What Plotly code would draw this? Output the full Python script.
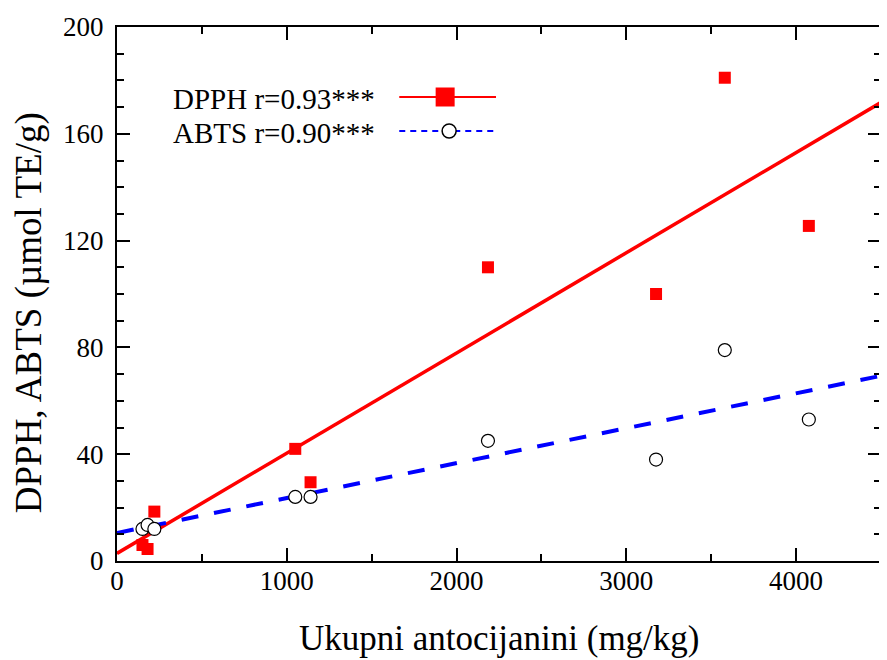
import numpy as np
import plotly.graph_objects as go

# Data
anthocyanins = [150, 180, 220, 1050, 1140, 2185, 3175, 3580, 4075]   # mg/kg
dpph = [6, 4.5, 18.5, 42, 29.5, 110, 100, 181, 125.5]                # umol TE/g
abts = [12, 13.5, 12, 24, 24, 45, 38, 79, 53]                          # umol TE/g
legend_dpph = "DPPH r=0.93***"
legend_abts = "ABTS r=0.90***"
x_title = "Ukupni antocijanini (mg/kg)"
y_title = "DPPH, ABTS (µmol TE/g)"
x_range = [0, 4500]
y_range = [0, 200]

FONT = "Liberation Serif, Times New Roman, serif"

x = np.array(anthocyanins, dtype=float)
fit_x = np.array(x_range, dtype=float)
k1, b1 = np.polyfit(x, np.array(dpph), 1)
k2, b2 = np.polyfit(x, np.array(abts), 1)

fig = go.Figure()
fig.add_trace(go.Scatter(x=fit_x, y=k1 * fit_x + b1, mode="lines",
                         line=dict(color="#ff0000", width=3.5), showlegend=False))
fig.add_trace(go.Scatter(x=fit_x, y=k2 * fit_x + b2, mode="lines",
                         line=dict(color="#0000ff", width=4, dash="17px,16px"), showlegend=False))
fig.add_trace(go.Scatter(x=anthocyanins, y=dpph, mode="markers",
                         marker=dict(symbol="square", size=12, color="#ff0000", line=dict(width=0)),
                         showlegend=False))
fig.add_trace(go.Scatter(x=anthocyanins, y=abts, mode="markers",
                         marker=dict(symbol="circle", size=13, color="white",
                                     line=dict(color="black", width=1.2)),
                         showlegend=False))

# page body adds an 8px offset; work in window pixels
OFF = 8
WIN_W, WIN_H = 887, 660
PL, PR, PT, PB = 117, 883, 27, 561       # plot area in window pixels
W, H = WIN_W - OFF, WIN_H - OFF
L, R, T, B = PL - OFF, WIN_W - PR, PT - OFF, WIN_H - PB
pw, ph = PR - PL, PB - PT


def px(xp):
    return (xp - PL) / pw


def py(yp):
    return (PB - yp) / ph


axis_common = dict(showline=True, linewidth=2, linecolor="black", mirror="allticks",
                   ticks="inside", ticklen=13, tickwidth=1.5, tickcolor="black",
                   showgrid=False, zeroline=False,
                   tickfont=dict(family=FONT, size=27, color="black"))
fig.update_xaxes(range=x_range, dtick=1000, tick0=0, ticklabelstandoff=-5,
                 minor=dict(dtick=500, ticks="inside", ticklen=7, tickwidth=1.5, tickcolor="black"),
                 **axis_common)
fig.update_yaxes(range=y_range, dtick=40, tick0=0, ticklabelstandoff=6,
                 minor=dict(dtick=10, ticks="inside", ticklen=7, tickwidth=1.5, tickcolor="black"),
                 **axis_common)

annotations = [
    dict(text=x_title, xref="paper", yref="paper", x=px(500), y=py(638),
         xanchor="center", yanchor="middle", showarrow=False,
         font=dict(family=FONT, size=35, color="black")),
    dict(text=y_title, xref="paper", yref="paper", x=px(29), y=py(313),
         xanchor="center", yanchor="middle", textangle=-90, showarrow=False,
         font=dict(family=FONT, size=37, color="black")),
    dict(text=legend_dpph, xref="paper", yref="paper", x=px(171), y=py(99),
         xanchor="left", yanchor="middle", showarrow=False,
         font=dict(family=FONT, size=29, color="black")),
    dict(text=legend_abts, xref="paper", yref="paper", x=px(171), y=py(133),
         xanchor="left", yanchor="middle", showarrow=False,
         font=dict(family=FONT, size=29, color="black")),
]

shapes = [
    dict(type="line", xref="paper", yref="paper", x0=px(400), x1=px(497), y0=py(97), y1=py(97),
         line=dict(color="#ff0000", width=2)),
    dict(type="rect", xref="paper", yref="paper", xsizemode="pixel", ysizemode="pixel",
         xanchor=px(446), yanchor=py(97), x0=-9.5, x1=9.5, y0=-9.5, y1=9.5,
         fillcolor="#ff0000", line=dict(width=0)),
    dict(type="line", xref="paper", yref="paper", x0=px(400), x1=px(497), y0=py(131), y1=py(131),
         line=dict(color="#0000ff", width=2, dash="6px,5px")),
    dict(type="circle", xref="paper", yref="paper", xsizemode="pixel", ysizemode="pixel",
         xanchor=px(450), yanchor=py(131), x0=-7, x1=7, y0=-7, y1=7,
         fillcolor="white", line=dict(color="black", width=1.5)),
]

fig.update_layout(width=W, height=H, margin=dict(l=L, r=R, t=T, b=B),
                  plot_bgcolor="white", paper_bgcolor="white",
                  annotations=annotations, shapes=shapes, showlegend=False,
                  font=dict(family=FONT, color="black"))

fig.write_html("out.html")
